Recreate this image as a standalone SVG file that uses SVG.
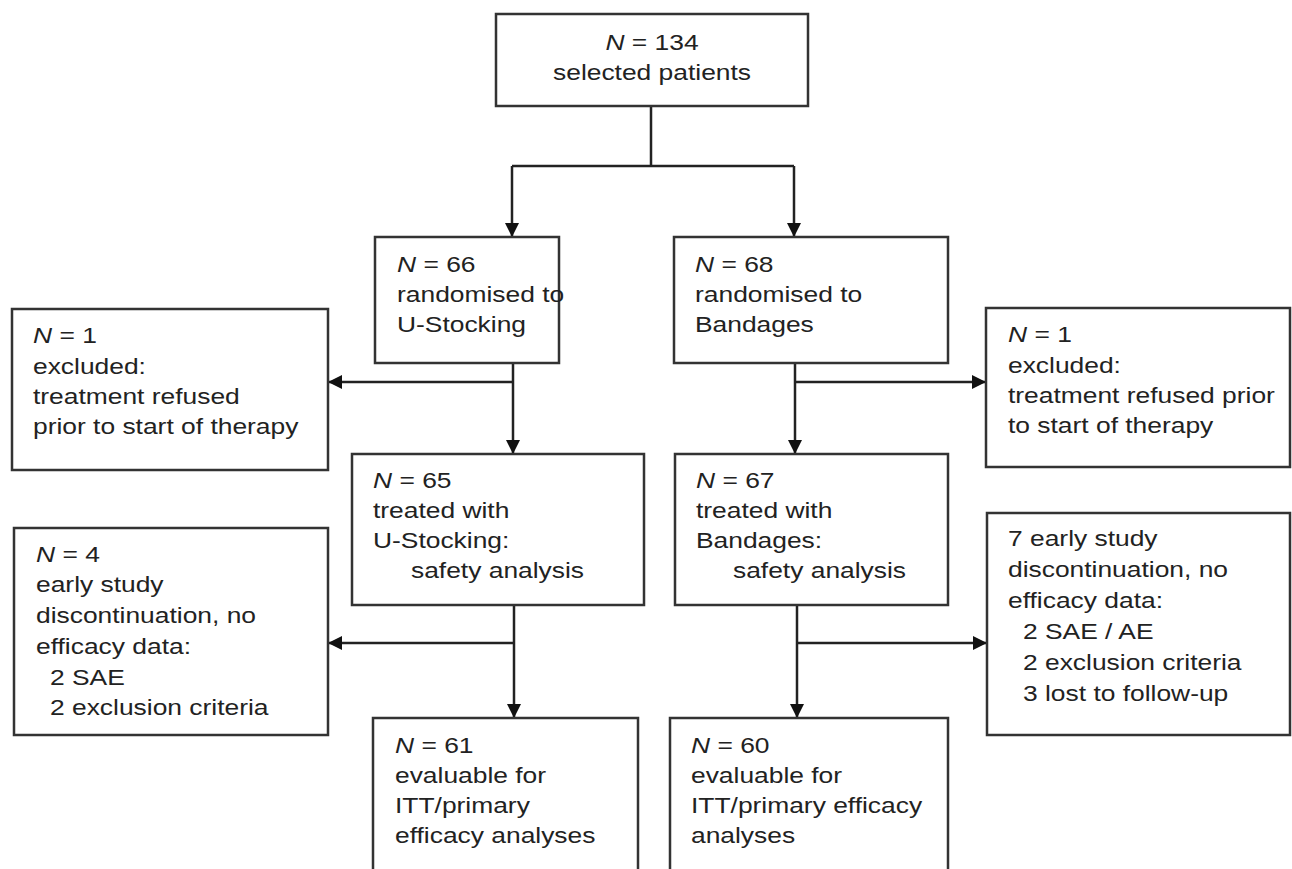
<svg xmlns="http://www.w3.org/2000/svg" width="1292" height="869" viewBox="0 0 1292 869">
<style>
.box{fill:#fff;stroke:#333;stroke-width:2.5}
.t{font-family:"Liberation Sans",Arial,Helvetica,sans-serif;font-size:22px;fill:#222}
.c{text-anchor:middle}
.ln{fill:none;stroke:#222;stroke-width:2.5}
.i{font-style:italic}
</style>
<defs>
<marker id="ah" markerUnits="userSpaceOnUse" markerWidth="14" markerHeight="14" viewBox="0 0 14 14" refX="13" refY="7" orient="auto">
<path d="M0,0 L14,7 L0,14 Z" fill="#111"/>
</marker>
</defs>
<rect width="1292" height="869" fill="#fff"/>

<g id="connectors">
<path class="ln" d="M651,106 V166 M512,166 H794"/>
<path class="ln" d="M512,166 V236" marker-end="url(#ah)"/>
<path class="ln" d="M794,166 V236" marker-end="url(#ah)"/>
<path class="ln" d="M513,363 V453" marker-end="url(#ah)"/>
<path class="ln" d="M513,382 H329" marker-end="url(#ah)"/>
<path class="ln" d="M795,363 V453" marker-end="url(#ah)"/>
<path class="ln" d="M795,382 H985" marker-end="url(#ah)"/>
<path class="ln" d="M514,605 V717" marker-end="url(#ah)"/>
<path class="ln" d="M514,643 H329" marker-end="url(#ah)"/>
<path class="ln" d="M797,605 V717" marker-end="url(#ah)"/>
<path class="ln" d="M797,643 H986" marker-end="url(#ah)"/>
</g>

<g id="n134">
<rect class="box" x="496" y="14" width="312" height="92"/>
<text class="t c" transform="translate(652,50) scale(1.2,1)"><tspan class="i">N</tspan> = 134</text>
<text class="t c" transform="translate(652,80) scale(1.2,1)">selected patients</text>
</g>

<g id="n66">
<rect class="box" x="375" y="237" width="184" height="126"/>
<text class="t" transform="translate(397,272) scale(1.2,1)"><tspan class="i">N</tspan> = 66</text>
<text class="t" transform="translate(397,302) scale(1.2,1)">randomised to</text>
<text class="t" transform="translate(397,332) scale(1.2,1)">U-Stocking</text>
</g>

<g id="n68">
<rect class="box" x="674" y="237" width="274" height="126"/>
<text class="t" transform="translate(695,272) scale(1.2,1)"><tspan class="i">N</tspan> = 68</text>
<text class="t" transform="translate(695,302) scale(1.2,1)">randomised to</text>
<text class="t" transform="translate(695,332) scale(1.2,1)">Bandages</text>
</g>

<g id="excl-left">
<rect class="box" x="12" y="309" width="316" height="161"/>
<text class="t" transform="translate(33,343) scale(1.2,1)"><tspan class="i">N</tspan> = 1</text>
<text class="t" transform="translate(33,374) scale(1.2,1)">excluded:</text>
<text class="t" transform="translate(33,404) scale(1.2,1)">treatment refused</text>
<text class="t" transform="translate(33,434) scale(1.2,1)">prior to start of therapy</text>
</g>

<g id="excl-right">
<rect class="box" x="986" y="308" width="304" height="159"/>
<text class="t" transform="translate(1008,342) scale(1.2,1)"><tspan class="i">N</tspan> = 1</text>
<text class="t" transform="translate(1008,373) scale(1.2,1)">excluded:</text>
<text class="t" transform="translate(1008,403) scale(1.2,1)">treatment refused prior</text>
<text class="t" transform="translate(1008,433) scale(1.2,1)">to start of therapy</text>
</g>

<g id="n65">
<rect class="box" x="352" y="454" width="292" height="151"/>
<text class="t" transform="translate(373,488) scale(1.2,1)"><tspan class="i">N</tspan> = 65</text>
<text class="t" transform="translate(373,518) scale(1.2,1)">treated with</text>
<text class="t" transform="translate(373,548) scale(1.2,1)">U-Stocking:</text>
<text class="t" transform="translate(411,578) scale(1.2,1)">safety analysis</text>
</g>

<g id="n67">
<rect class="box" x="675" y="454" width="273" height="151"/>
<text class="t" transform="translate(696,488) scale(1.2,1)"><tspan class="i">N</tspan> = 67</text>
<text class="t" transform="translate(696,518) scale(1.2,1)">treated with</text>
<text class="t" transform="translate(696,548) scale(1.2,1)">Bandages:</text>
<text class="t" transform="translate(733,578) scale(1.2,1)">safety analysis</text>
</g>

<g id="drop-left">
<rect class="box" x="14" y="528" width="314" height="207"/>
<text class="t" transform="translate(36,562) scale(1.2,1)"><tspan class="i">N</tspan> = 4</text>
<text class="t" transform="translate(36,592) scale(1.2,1)">early study</text>
<text class="t" transform="translate(36,623) scale(1.2,1)">discontinuation, no</text>
<text class="t" transform="translate(36,654) scale(1.2,1)">efficacy data:</text>
<text class="t" transform="translate(50,685) scale(1.2,1)">2 SAE</text>
<text class="t" transform="translate(50,715) scale(1.2,1)">2 exclusion criteria</text>
</g>

<g id="drop-right">
<rect class="box" x="987" y="513" width="303" height="222"/>
<text class="t" transform="translate(1008,546) scale(1.2,1)">7 early study</text>
<text class="t" transform="translate(1008,577) scale(1.2,1)">discontinuation, no</text>
<text class="t" transform="translate(1008,608) scale(1.2,1)">efficacy data:</text>
<text class="t" transform="translate(1023,639) scale(1.2,1)">2 SAE / AE</text>
<text class="t" transform="translate(1023,670) scale(1.2,1)">2 exclusion criteria</text>
<text class="t" transform="translate(1023,701) scale(1.2,1)">3 lost to follow-up</text>
</g>

<g id="n61">
<rect class="box" x="373" y="718" width="265" height="170"/>
<text class="t" transform="translate(395,753) scale(1.2,1)"><tspan class="i">N</tspan> = 61</text>
<text class="t" transform="translate(395,783) scale(1.2,1)">evaluable for</text>
<text class="t" transform="translate(395,813) scale(1.2,1)">ITT/primary</text>
<text class="t" transform="translate(395,843) scale(1.2,1)">efficacy analyses</text>
</g>

<g id="n60">
<rect class="box" x="670" y="718" width="278" height="170"/>
<text class="t" transform="translate(691,753) scale(1.2,1)"><tspan class="i">N</tspan> = 60</text>
<text class="t" transform="translate(691,783) scale(1.2,1)">evaluable for</text>
<text class="t" transform="translate(691,813) scale(1.2,1)">ITT/primary efficacy</text>
<text class="t" transform="translate(691,843) scale(1.2,1)">analyses</text>
</g>
</svg>
